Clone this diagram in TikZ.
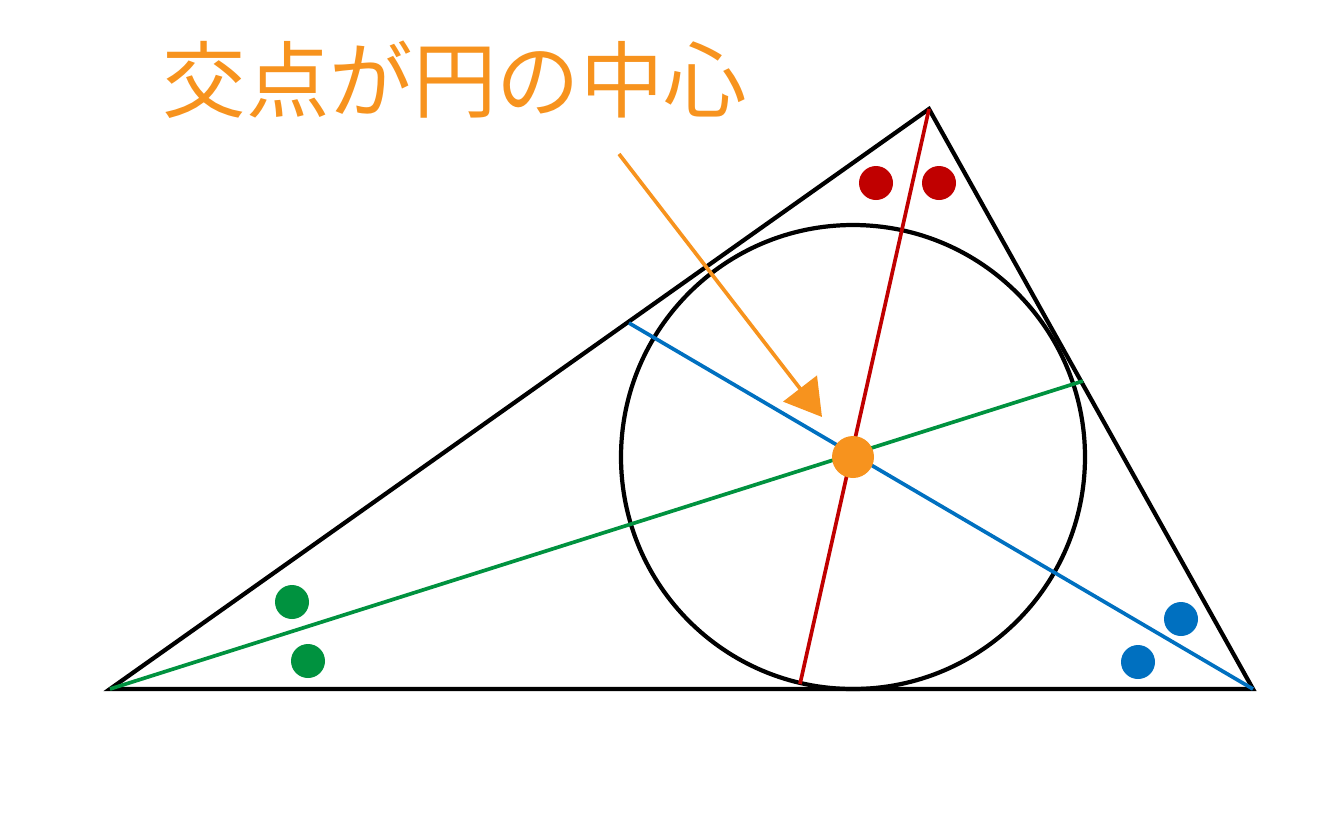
\documentclass[tikz,border=0pt]{standalone}
\usepackage{fontspec}
\newfontfamily\cjk{Noto Sans CJK JP}
\usetikzlibrary{arrows.meta}
\definecolor{kred}{HTML}{C00000}
\definecolor{kblue}{HTML}{0070C0}
\definecolor{kgreen}{HTML}{00923F}
\definecolor{korange}{HTML}{F7931E}

\begin{document}
\begin{tikzpicture}[x=0.02cm, y=-0.02cm,
                    edgeline/.style={draw=black, line width=2.4pt, line join=miter},
                    bisector/.style={line width=2.1pt},
                    marknode/.style={circle, fill, inner sep=0pt, minimum size=34*0.02cm},
                    centernode/.style={circle, fill=korange, inner sep=0pt, minimum size=42*0.02cm},
                    labelnode/.style={text=korange, inner sep=0pt, font=\cjk\fontsize{47.5}{50}\selectfont}]
                \useasboundingbox (0,0) rectangle (1333,833);
                \coordinate (A) at (110,689);
                \coordinate (B) at (1253,689);
                \coordinate (C) at (929,109);
                \coordinate (I) at (853,457);
                \coordinate (Pa) at (800,684);
                \coordinate (Pb) at (629,323);
                \coordinate (Pc) at (1083,381);
                \coordinate (S) at (619,154);
                \coordinate (T) at (822,417);
                \draw[line width=2.4pt] (I) circle (232);
                \draw[edgeline] (A) -- (B) -- (C) -- cycle;
                \draw[bisector, kred] (C) -- (Pa);
                \draw[bisector, kblue] (Pb) -- (B);
                \draw[bisector, kgreen] (A) -- (Pc);
                \node[marknode, kred] (r1) at (876,183) {};
                \node[marknode, kred] (r2) at (939,183) {};
                \node[marknode, kgreen] (g1) at (292,602) {};
                \node[marknode, kgreen] (g2) at (308,661) {};
                \node[marknode, kblue] (b1) at (1181,619) {};
                \node[marknode, kblue] (b2) at (1138,662) {};
                \node[centernode] (ctr) at (I) {};
                \draw[korange, line width=2.1pt, -{Triangle[length=36*0.02cm, width=42*0.02cm]}] (S) -- (T);
                \node[labelnode] (title) at (455,80) {交点が円の中心};
            \end{tikzpicture}
\end{document}
